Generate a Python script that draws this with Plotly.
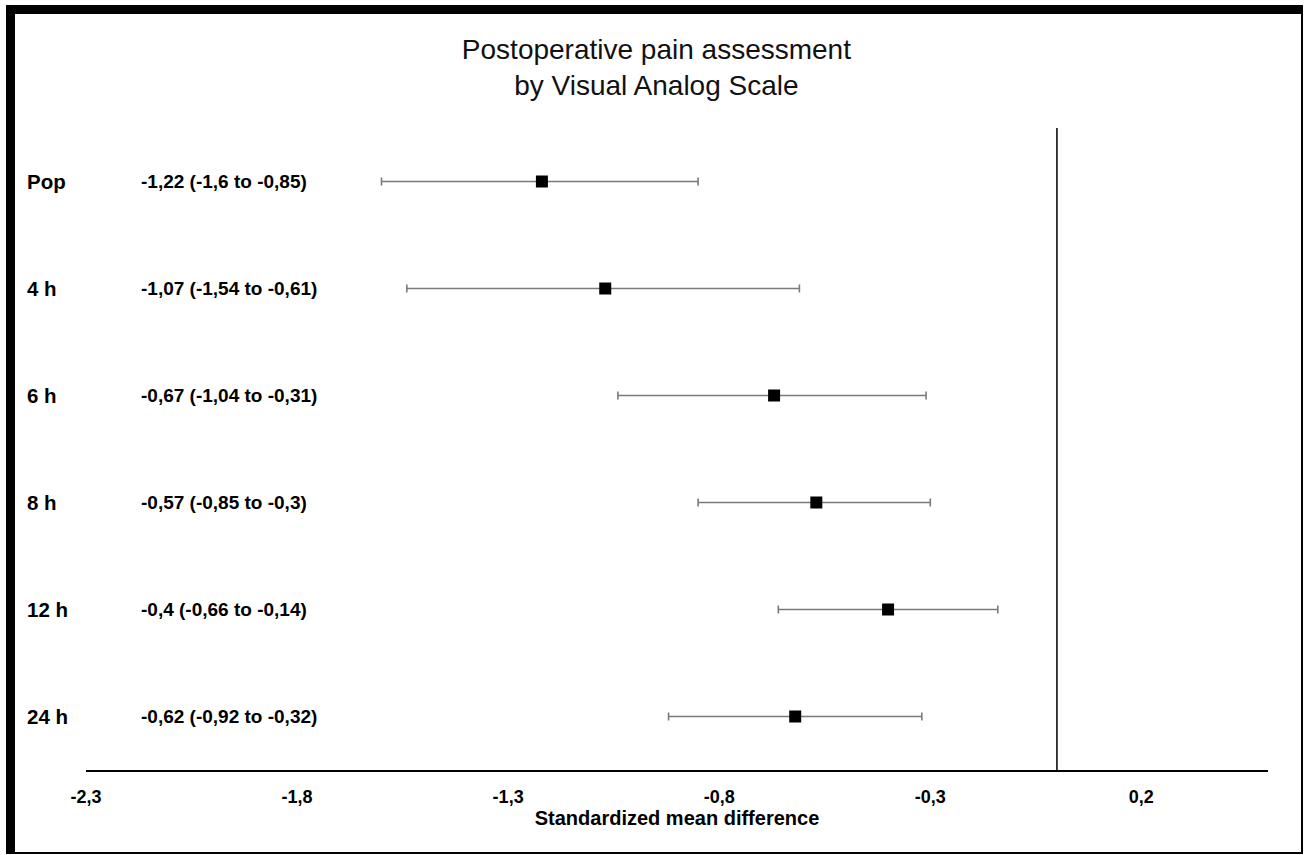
import plotly.graph_objects as go

# Data
categories = ["Pop", "4 h", "6 h", "8 h", "12 h", "24 h"]
smd = [-1.22, -1.07, -0.67, -0.57, -0.40, -0.62]
ci_low = [-1.60, -1.54, -1.04, -0.85, -0.66, -0.92]
ci_high = [-0.85, -0.61, -0.31, -0.30, -0.14, -0.32]
tick_vals = [-2.3, -1.8, -1.3, -0.8, -0.3, 0.2]
tick_text = ["-2,3", "-1,8", "-1,3", "-0,8", "-0,3", "0,2"]

W, H = 1305, 855
FONT = "Arial, Liberation Sans, Helvetica, sans-serif"

n = len(categories)
ypos = [n - i for i in range(n)]  # Pop at top


def fmt(v):
    s = ("%.2f" % v).rstrip("0").rstrip(".")
    return s.replace(".", ",")


labels = [f"{fmt(m)} ({fmt(l)} to {fmt(h)})" for m, l, h in zip(smd, ci_low, ci_high)]

fig = go.Figure()
fig.add_trace(go.Scatter(
    x=smd, y=ypos, mode="markers",
    marker=dict(symbol="square", size=12, color="black"),
    error_x=dict(type="data", symmetric=False,
                 array=[h - m for h, m in zip(ci_high, smd)],
                 arrayminus=[m - l for m, l in zip(smd, ci_low)],
                 color="#7a7a7a", thickness=1.6, width=4),
    showlegend=False, hoverinfo="skip",
))

x0, x1 = 86 / W, 1268 / W
y0, y1 = 1 - 770 / H, 1 - 128 / H

fig.update_layout(
    width=W, height=H,
    margin=dict(l=0, r=0, t=0, b=0, autoexpand=False),
    paper_bgcolor="white", plot_bgcolor="white",
    font=dict(family=FONT, color="black"),
    title=dict(text="Postoperative pain assessment<br>by Visual Analog Scale",
               x=0.503, xanchor="center", y=1 - 59 / H, yanchor="middle",
               font=dict(size=28, family=FONT, color="#111")),
    xaxis=dict(domain=[x0, x1], range=[-2.3, 0.5], tickvals=tick_vals, ticktext=tick_text,
               automargin=False,
               showgrid=False, zeroline=False, showline=True, linecolor="black", linewidth=1.5,
               ticks="", tickfont=dict(size=18, family=FONT, color="black", weight="bold"),
               ticklabelstandoff=10,
               title=dict(text="<b>Standardized mean difference</b>", font=dict(size=20, family=FONT),
                          standoff=5)),
    yaxis=dict(domain=[y0, y1], range=[0.5, n + 0.5], showgrid=False, zeroline=False,
               automargin=False,
               showticklabels=False, showline=False, ticks=""),
)

# vertical line at zero
fig.add_shape(type="line", xref="x", yref="y domain", x0=0, x1=0, y0=0, y1=1,
              line=dict(color="black", width=1.5))

# row labels and value labels
for c, lab, y in zip(categories, labels, ypos):
    fig.add_annotation(x=25 / W, xref="paper", y=y, yref="y", text=f"<b>{c}</b>",
                       showarrow=False, xanchor="left", yanchor="middle",
                       font=dict(size=20.5, family=FONT, color="black"))
    fig.add_annotation(x=139 / W, xref="paper", y=y, yref="y", text=f"<b>{lab}</b>",
                       showarrow=False, xanchor="left", yanchor="middle",
                       font=dict(size=19, family=FONT, color="black"))

# frame: thick top/left, thin right/bottom
fig.add_shape(type="rect", xref="paper", yref="paper", x0=7 / W, x1=1302 / W, y0=1 - 853 / H, y1=1 - 6 / H,
              line=dict(color="black", width=2), fillcolor="rgba(0,0,0,0)", layer="above")
fig.add_shape(type="rect", xref="paper", yref="paper", x0=7 / W, x1=15 / W, y0=1 - 853 / H, y1=1 - 6 / H,
              line=dict(width=0), fillcolor="black", layer="above")
fig.add_shape(type="rect", xref="paper", yref="paper", x0=7 / W, x1=1302 / W, y0=1 - 14 / H, y1=1 - 6 / H,
              line=dict(width=0), fillcolor="black", layer="above")

fig.write_html("out.html", config={"displayModeBar": False},
               post_script="document.body.style.margin='0';document.body.style.overflow='hidden';")
